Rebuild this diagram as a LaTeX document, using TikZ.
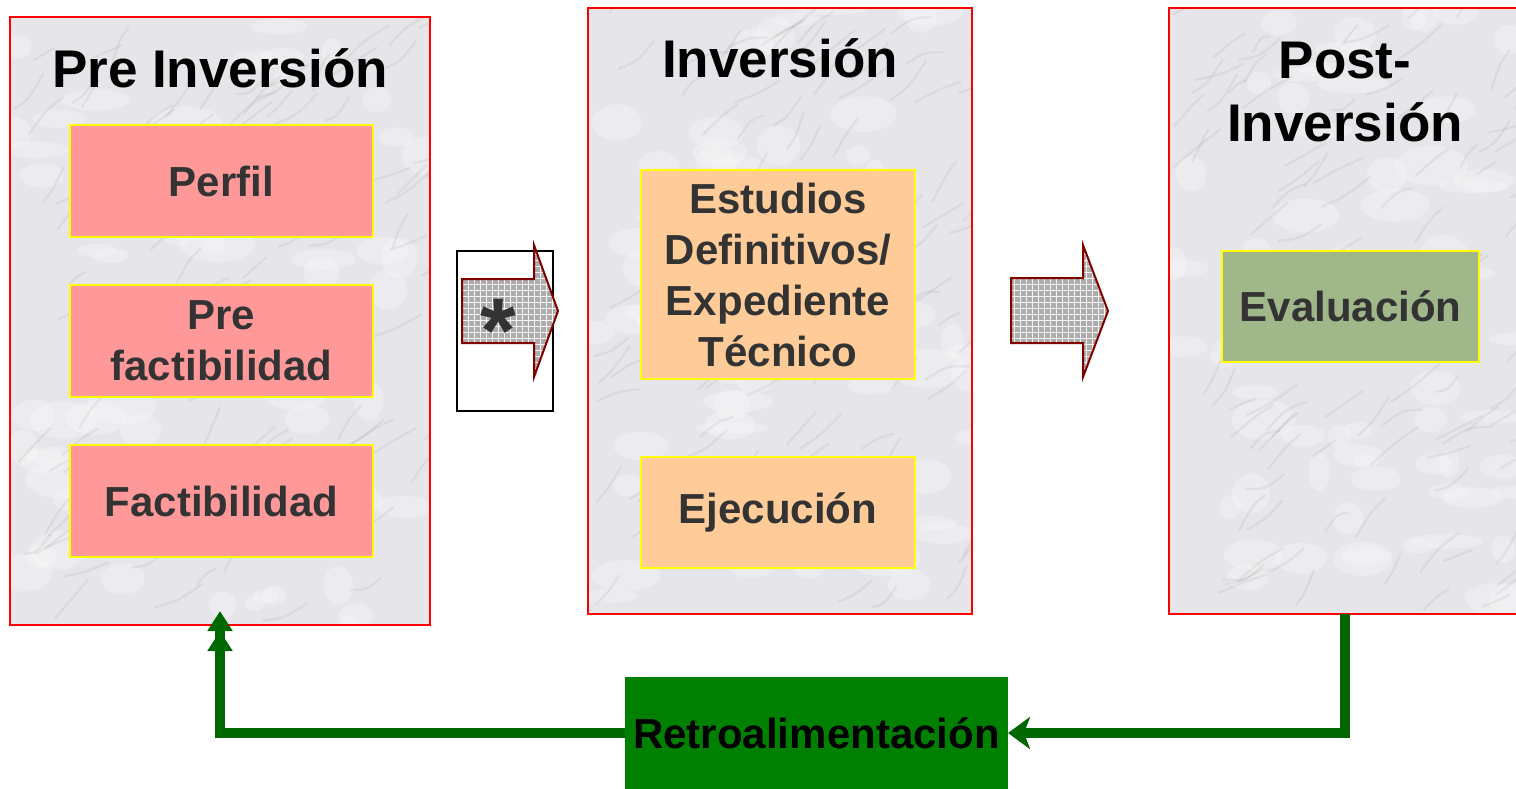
\documentclass[tikz,border=0pt]{standalone}
\usepackage{fontspec}
\setmainfont{Liberation Sans}
\usetikzlibrary{arrows.meta,patterns}
\definecolor{redb}{HTML}{FF0000}
\definecolor{yel}{HTML}{FFFF00}
\definecolor{pinkf}{HTML}{FF9999}
\definecolor{orangef}{HTML}{FFCC99}
\definecolor{olivef}{HTML}{A0B78A}
\definecolor{greenbox}{HTML}{008000}
\definecolor{greenline}{HTML}{006600}
\definecolor{darkred}{HTML}{800000}
\definecolor{txtgray}{HTML}{333333}
\definecolor{marblebase}{HTML}{E6E6EA}
\newcommand\marblebg[4]{%
  \begin{scope}
    \clip (#1,#2) rectangle (#3,#4);
    \fill[marblebase] (#1,#2) rectangle (#3,#4);
    \foreach \k in {1,...,70}{%
      \pgfmathsetmacro\px{#1+rnd*(#3-#1)}%
      \pgfmathsetmacro\py{#2+rnd*(#4-#2)}%
      \pgfmathsetmacro\rx{5+rnd*14}%
      \pgfmathsetmacro\ry{3+rnd*7}%
      \fill[white,opacity=0.25] (\px,\py) ellipse ({\rx pt} and {\ry pt});
    }
    \foreach \k in {1,...,110}{%
      \pgfmathsetmacro\px{#1+rnd*(#3-#1)}%
      \pgfmathsetmacro\py{#2+rnd*(#4-#2)}%
      \pgfmathsetmacro\dx{15+rnd*35}%
      \pgfmathsetmacro\dy{-10-rnd*30}%
      \pgfmathsetmacro\cy{-8+rnd*16}%
      \draw[black!45,opacity=0.13,line width=1.1pt,line cap=round]
        (\px,\py) .. controls (\px+0.5*\dx,\py+0.5*\dy+\cy) .. (\px+\dx,\py+\dy);
    }
  \end{scope}}
\tikzset{
  x=0.5pt, y=-0.5pt,
  phase/.style={draw=redb, line width=1pt, inner sep=0pt, outer sep=0pt},
  title/.style={font=\bfseries\fontsize{26.5}{31.5}\selectfont, text=black, align=center, inner sep=0pt},
  stagebox/.style={draw=yel, line width=1pt, inner sep=0pt, outer sep=0pt,
    font=\bfseries\fontsize{21}{25.5}\selectfont, text=txtgray, align=center},
  pinkbox/.style={stagebox, fill=pinkf, minimum width=151.5pt, minimum height=56pt},
  orangebox/.style={stagebox, fill=orangef, minimum width=137pt},
  blockarrow/.style={draw=darkred, line width=1pt, line join=miter,
    preaction={fill=gray!65}, pattern=grid, pattern color=white!92!gray},
  fb/.style={draw=greenline, line width=5pt},
}
\begin{document}
\begin{tikzpicture}
\clip (0,0) rectangle (1516,788);
\fill[white] (0,0) rectangle (1516,788);
\pgfmathsetseed{7}
% marble backgrounds
\marblebg{10}{17}{430}{625}
\marblebg{588}{8}{972}{614}
\marblebg{1169}{8}{1530}{614}
% phase frames
\node[phase, minimum width=210pt, minimum height=304pt] (pre) at (220,321) {};
\node[phase, minimum width=192pt, minimum height=303pt] (inv) at (780,311) {};
\node[phase, minimum width=180.5pt, minimum height=303pt] (post) at (1349.5,311) {};
% titles
\node[title, anchor=base] (t1) at (220,87) {Pre Inversión};
\node[title, anchor=base] (t2) at (780,77) {Inversión};
\node[title] (t3) at (1345,92) {Post-\\Inversión};
% stage boxes
\node[pinkbox] (perfil) at (221.5,181) {\raisebox{-1.5pt}{Perfil}};
\node[pinkbox] (prefact) at (221.5,341) {Pre\\factibilidad};
\node[pinkbox] (fact) at (221.5,501) {\raisebox{-1.5pt}{Factibilidad}};
\node[orangebox, minimum height=104.5pt] (estudios) at (778,274.5) {Estudios\\Definitivos/\\Expediente\\Técnico};
\node[orangebox, minimum height=55.5pt] (ejec) at (778,512.5) {\raisebox{-2.5pt}{Ejecución}};
\node[stagebox, fill=olivef, minimum width=128.5pt, minimum height=55.5pt] (eval) at (1350.5,306.5) {\raisebox{-1.5pt}{Evaluación}};
% block arrows
\draw[black, line width=1pt] (457,251) rectangle (553,411);
\draw[blockarrow] (462,279) -- (534,279) -- (534,245) -- (558,311) -- (534,377) -- (534,343) -- (462,343) -- cycle;
\node[font=\bfseries\fontsize{46}{46}\selectfont, text=txtgray, anchor=base, inner sep=0pt] (star) at (498,362) {*};
\draw[blockarrow] (1011,278) -- (1083,278) -- (1083,245) -- (1108,311) -- (1083,377) -- (1083,343) -- (1011,343) -- cycle;
% feedback
\node[fill=greenbox, inner sep=0pt, outer sep=0pt, minimum width=191.5pt, minimum height=56.5pt,
  font=\bfseries\fontsize{21}{25}\selectfont, text=black] (retro) at (816.5,733) {Retroalimentación};
\draw[fb, -{Stealth[length=11pt,width=16pt,inset=3pt]}] ([xshift=-2.25pt]post.south) |- (retro.east);
\draw[fb, -{Triangle[length=10pt,width=12pt,sep=0pt]Triangle[length=10pt,width=12pt]}] (retro.west) -| ([yshift=7pt]pre.south);
\end{tikzpicture}
\end{document}
